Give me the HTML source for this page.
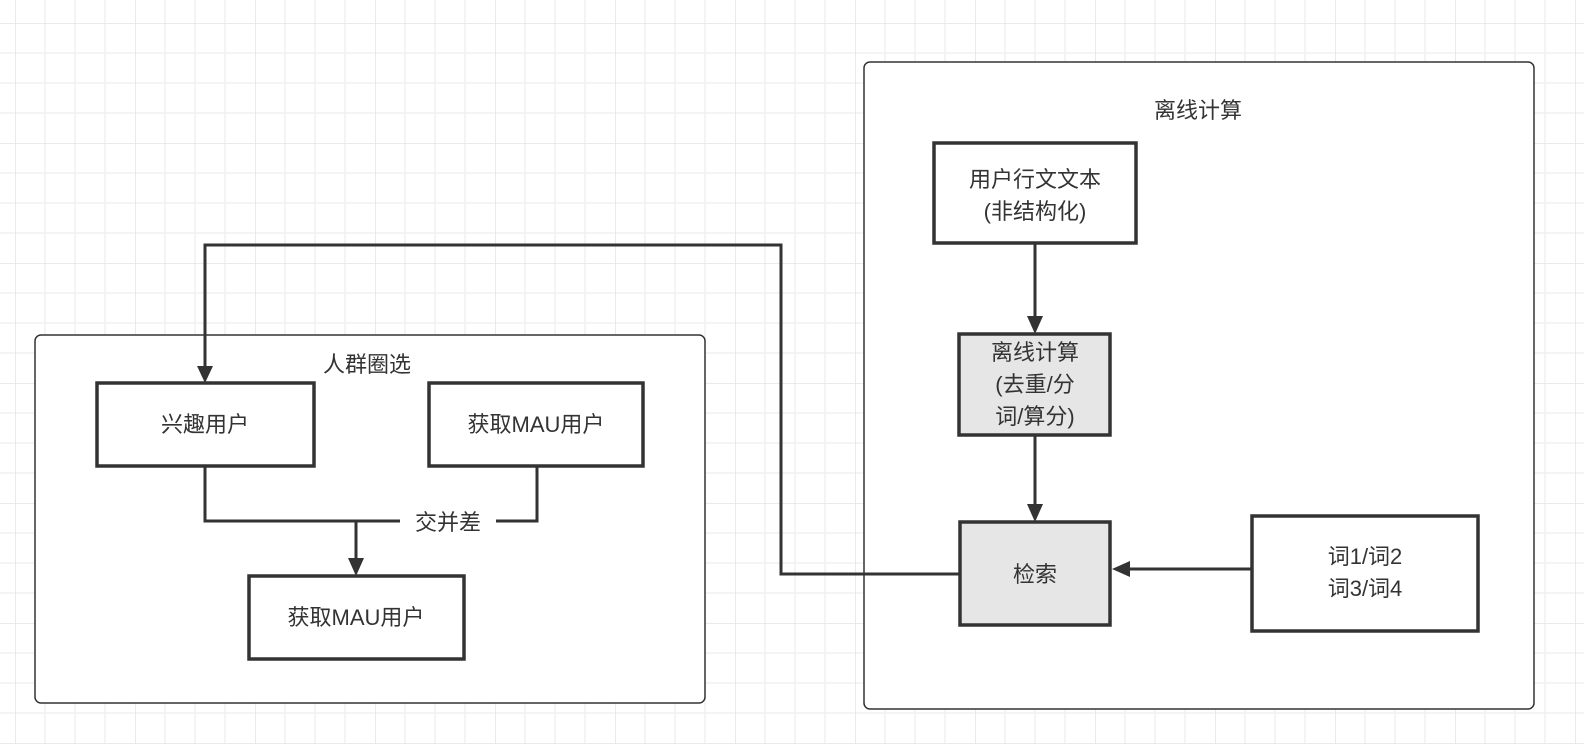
<!DOCTYPE html>
<html><head><meta charset="utf-8"><style>
html,body{margin:0;padding:0;background:#fff;}
svg{display:block;}
text{font-family:"Liberation Sans","Noto Sans CJK SC",sans-serif;font-size:22px;fill:#333;text-anchor:middle;}
</style></head><body>
<svg width="1584" height="744" viewBox="0 0 1584 744" xmlns="http://www.w3.org/2000/svg">
<defs>
<pattern id="g" x="15" y="23" width="120" height="120" patternUnits="userSpaceOnUse">
<path d="M30 0V120M60 0V120M90 0V120M0 30H120M0 60H120M0 90H120" stroke="#f0f0f0" stroke-width="1.5" fill="none"/>
<path d="M0 0V120M0 0H120" stroke="#e3e3e3" stroke-width="1.5" fill="none"/>
</pattern>
<marker id="a" markerWidth="10" markerHeight="10" refX="9" refY="5" orient="auto" markerUnits="userSpaceOnUse" viewBox="0 0 10 10"><path d="M0 0L10 5L0 10z" fill="#333"/></marker>
</defs>
<rect width="1584" height="744" fill="url(#g)"/>
<g fill="#fff" stroke="#333" stroke-width="1.5">
<rect x="35" y="335" width="670" height="368" rx="6"/>
<rect x="864" y="62" width="670" height="647" rx="6"/>
</g>
<text x="367" y="372">人群圈选</text>
<text x="1198" y="118">离线计算</text>
<g stroke="#333" stroke-width="3" fill="none">
<path d="M205 466V521H537V466"/>
<path d="M960 574H781V245H205V368"/>
<path d="M356 521V560"/>
<path d="M1035 243V318"/>
<path d="M1035 435V506"/>
<path d="M1252 569H1128"/>
</g>
<g fill="#333">
<path d="M197 366L213 366L205 383z"/>
<path d="M348 558L364 558L356 576z"/>
<path d="M1027 316L1043 316L1035 334z"/>
<path d="M1027 504L1043 504L1035 522z"/>
<path d="M1130 561L1130 577L1112 569z"/>
</g>
<rect x="400" y="508" width="96" height="28" fill="#fff"/>
<text x="448" y="530">交并差</text>
<g stroke="#333" stroke-width="3.5">
<rect x="97" y="383" width="217" height="83" fill="#fff"/>
<rect x="429" y="383" width="214" height="83" fill="#fff"/>
<rect x="249" y="576" width="215" height="83" fill="#fff"/>
<rect x="934" y="143" width="202" height="100" fill="#fff"/>
<rect x="959" y="334" width="151" height="101" fill="#e6e6e6"/>
<rect x="960" y="522" width="150" height="103" fill="#e6e6e6"/>
<rect x="1252" y="516" width="226" height="115" fill="#fff"/>
</g>
<text x="205" y="432">兴趣用户</text>
<text x="536" y="432">获取MAU用户</text>
<text x="356" y="625">获取MAU用户</text>
<text x="1035" y="187">用户行文文本</text>
<text x="1035" y="219">(非结构化)</text>
<text x="1035" y="360">离线计算</text>
<text x="1035" y="392">(去重/分</text>
<text x="1035" y="424">词/算分)</text>
<text x="1035" y="582">检索</text>
<text x="1365" y="564">词1/词2</text>
<text x="1365" y="596">词3/词4</text>
</svg>
</body></html>
